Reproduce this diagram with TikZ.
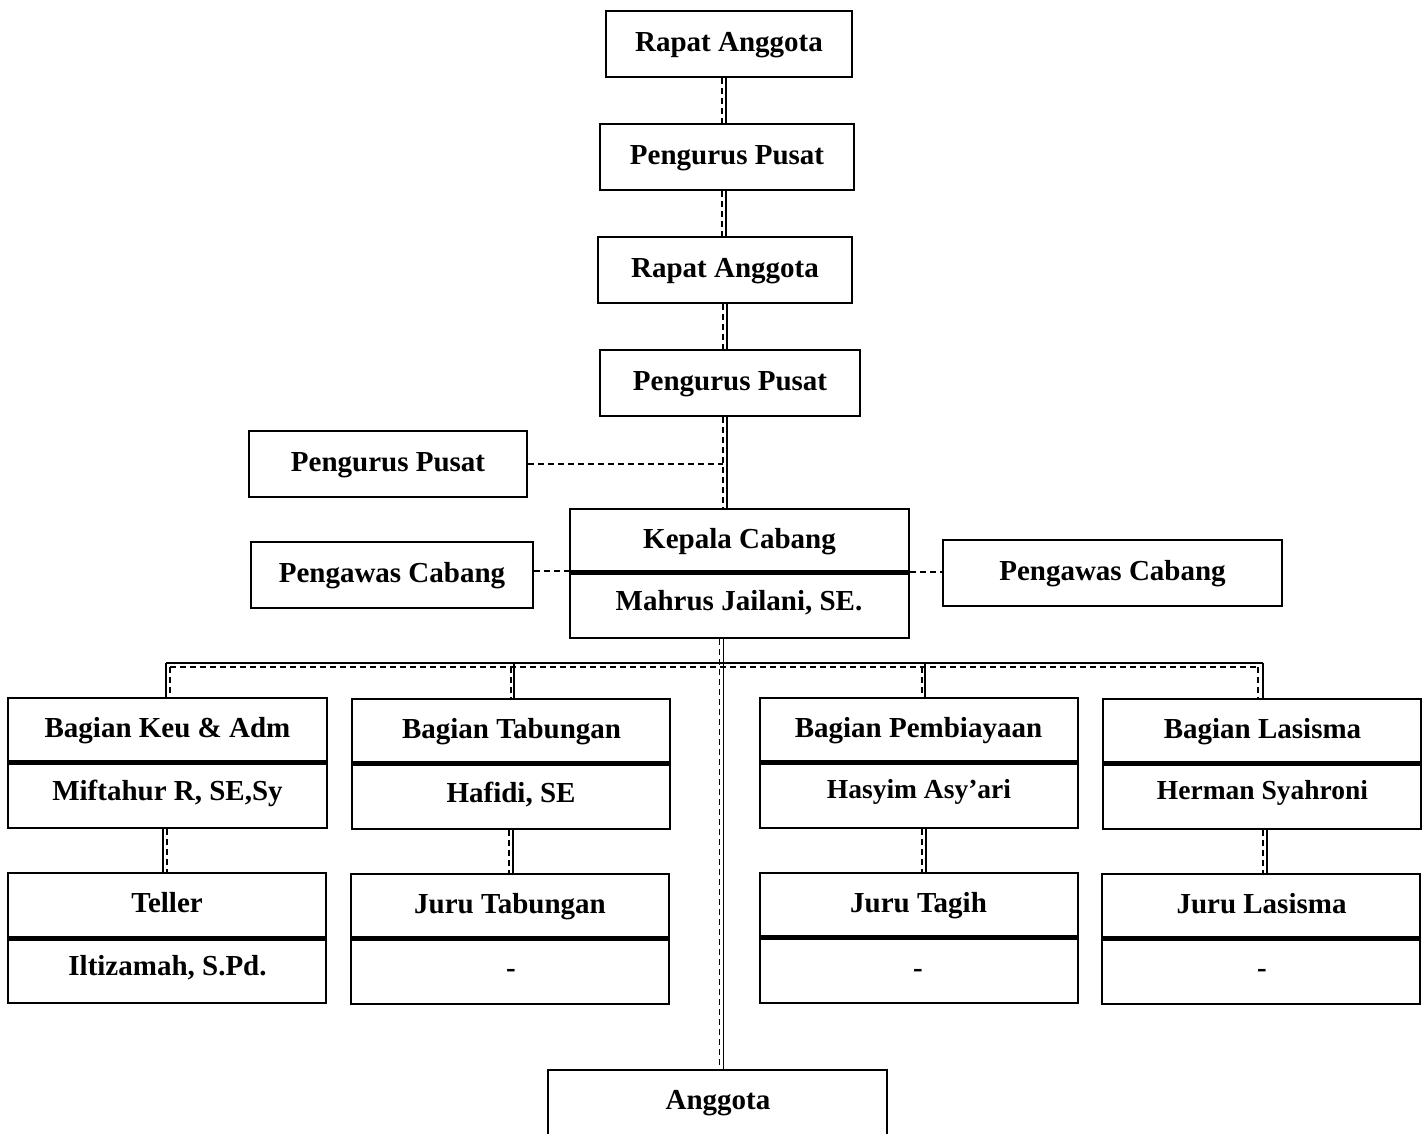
\documentclass[tikz,border=0pt]{standalone}
\usepackage{fontspec}
\setmainfont{Liberation Serif}
\begin{document}
\begin{tikzpicture}[x=1pt,y=-1pt,
  box/.style={draw, line width=2.5pt, inner sep=0pt, font=\bfseries\fontsize{29}{32}\selectfont, text height=20pt, text depth=6pt},
  txt/.style={inner sep=0pt, font=\bfseries\fontsize{29}{32}\selectfont, text height=20pt, text depth=6pt},
  smalltxt/.style={inner sep=0pt, font=\bfseries\fontsize{27.5}{30}\selectfont, text height=19pt, text depth=5.5pt},
  divider/.style={line width=5pt},
  sl/.style={line width=1.3pt},
  dl/.style={line width=1.3pt, dash pattern=on 6pt off 4pt}]
\clip (0,0) rectangle (1424,1133);
\fill[white] (0,0) rectangle (1424,1133);

% top chain
\node[box, minimum width=246pt, minimum height=66pt] (ra1) at (729,44) {Rapat Anggota};
\node[box, minimum width=254pt, minimum height=66pt] (pp2) at (727,157) {Pengurus Pusat};
\node[box, minimum width=254pt, minimum height=66pt] (ra3) at (725,270) {Rapat Anggota};
\node[box, minimum width=260pt, minimum height=66pt] (pp4) at (730,383) {Pengurus Pusat};
\node[box, minimum width=278pt, minimum height=66pt] (pp5) at (388,464) {Pengurus Pusat};

% Kepala Cabang
\node[box, minimum width=339pt, minimum height=129pt] (kc) at (739.5,573.5) {};
\draw[divider] (kc.west |- 0,572) -- (kc.east |- 0,572);
\node[txt] (kct) at (739.5,541) {Kepala Cabang};
\node[txt] (kcn) at (739,603) {Mahrus Jailani, SE.};

\node[box, minimum width=282pt, minimum height=66pt] (pcl) at (392,575) {Pengawas Cabang};
\node[box, minimum width=339pt, minimum height=66pt] (pcr) at (1112.5,573) {Pengawas Cabang};

% Bagian boxes
\node[box, minimum width=319pt, minimum height=130pt] (keu) at (167.5,763) {};
\draw[divider] (keu.west |- 0,762) -- (keu.east |- 0,762);
\node[txt] (keut) at (167.5,730) {Bagian Keu \& Adm};
\node[txt] (keun) at (167.5,793) {Miftahur R, SE,Sy};

\node[box, minimum width=318pt, minimum height=130pt] (tab) at (511,764) {};
\draw[divider] (tab.west |- 0,763) -- (tab.east |- 0,763);
\node[txt] (tabt) at (511.5,731) {Bagian Tabungan};
\node[txt] (tabn) at (511,795) {Hafidi, SE};

\node[box, minimum width=318pt, minimum height=130pt] (pem) at (919,763) {};
\draw[divider] (pem.west |- 0,762) -- (pem.east |- 0,762);
\node[txt] (pemt) at (918.5,730) {Bagian Pembiayaan};
\node[smalltxt] (pemn) at (919,792) {Hasyim Asy’ari};

\node[box, minimum width=318pt, minimum height=130pt] (las) at (1262,764) {};
\draw[divider] (las.west |- 0,763) -- (las.east |- 0,763);
\node[txt] (last) at (1262.5,731) {Bagian Lasisma};
\node[smalltxt] (lasn) at (1262.5,793) {Herman Syahroni};

% lower boxes
\node[box, minimum width=318pt, minimum height=130pt] (tel) at (167,938) {};
\draw[divider] (tel.west |- 0,938) -- (tel.east |- 0,938);
\node[txt] (telt) at (167,905) {Teller};
\node[txt] (teln) at (167.5,968) {Iltizamah, S.Pd.};

\node[box, minimum width=318pt, minimum height=130pt] (jtb) at (510,939) {};
\draw[divider] (jtb.west |- 0,938) -- (jtb.east |- 0,938);
\node[txt] (jtbt) at (510,906) {Juru Tabungan};
\node[txt] (jtbn) at (511,970) {-};

\node[box, minimum width=318pt, minimum height=130pt] (jtg) at (919,938) {};
\draw[divider] (jtg.west |- 0,937) -- (jtg.east |- 0,937);
\node[txt] (jtgt) at (918.5,905) {Juru Tagih};
\node[txt] (jtgn) at (918,970) {-};

\node[box, minimum width=318pt, minimum height=130pt] (jls) at (1261,939) {};
\draw[divider] (jls.west |- 0,938) -- (jls.east |- 0,938);
\node[txt] (jlst) at (1261.5,906) {Juru Lasisma};
\node[txt] (jlsn) at (1262,970) {-};

\node[box, minimum width=339pt, minimum height=80pt] (ang) at (717.5,1110) {};
\node[txt] (angt) at (718,1102) {Anggota};

% top chain connectors
\draw[sl] (ra1.south -| 726,0) -- (pp2.north -| 726,0);
\draw[dl] (ra1.south -| 722,0) -- (pp2.north -| 722,0);
\draw[sl] (pp2.south -| 726,0) -- (ra3.north -| 726,0);
\draw[dl] (pp2.south -| 722,0) -- (ra3.north -| 722,0);
\draw[sl] (ra3.south -| 727,0) -- (pp4.north -| 727,0);
\draw[dl] (ra3.south -| 723,0) -- (pp4.north -| 723,0);
\draw[sl] (pp4.south -| 727,0) -- (kc.north -| 727,0);
\draw[dl] (pp4.south -| 723,0) -- (kc.north -| 723,0);
\coordinate (ppj) at (723,464);
\draw[dl] (pp5.east |- ppj) -- (ppj);

% Pengawas
\draw[dl] (pcl.east |- 0,571) -- (kc.west |- 0,571);
\draw[dl] (kc.east |- 0,572) -- (pcr.west |- 0,572);

% spine to Anggota
\draw[sl] (kc.south -| 723.5,0) -- (ang.north -| 723.5,0);
\draw[dl] (kc.south -| 719.5,0) -- (ang.north -| 719.5,0);

% bus
\coordinate (bsl) at (166,663);
\coordinate (bsr) at (1263,663);
\coordinate (bdl) at (170,667);
\coordinate (bdr) at (1258,667);
\draw[sl] (bsl) -- (bsr);
\draw[dl] (bdl) -- (bdr);
\draw[sl] (bsl) -- (keu.north -| bsl);
\draw[dl] (bdl) -- (keu.north -| bdl);
\draw[sl] (514,663) -- (tab.north -| 514,0);
\draw[dl] (511,667) -- (tab.north -| 511,0);
\draw[sl] (925,663) -- (pem.north -| 925,0);
\draw[dl] (922,667) -- (pem.north -| 922,0);
\draw[sl] (bsr) -- (las.north -| bsr);
\draw[dl] (bdr) -- (las.north -| bdr);

% bagian to lower
\draw[sl] (keu.south -| 163,0) -- (tel.north -| 163,0);
\draw[dl] (keu.south -| 167,0) -- (tel.north -| 167,0);
\draw[sl] (tab.south -| 513,0) -- (jtb.north -| 513,0);
\draw[dl] (tab.south -| 509,0) -- (jtb.north -| 509,0);
\draw[sl] (pem.south -| 926,0) -- (jtg.north -| 926,0);
\draw[dl] (pem.south -| 922,0) -- (jtg.north -| 922,0);
\draw[sl] (las.south -| 1267,0) -- (jls.north -| 1267,0);
\draw[dl] (las.south -| 1263,0) -- (jls.north -| 1263,0);
\end{tikzpicture}
\end{document}
